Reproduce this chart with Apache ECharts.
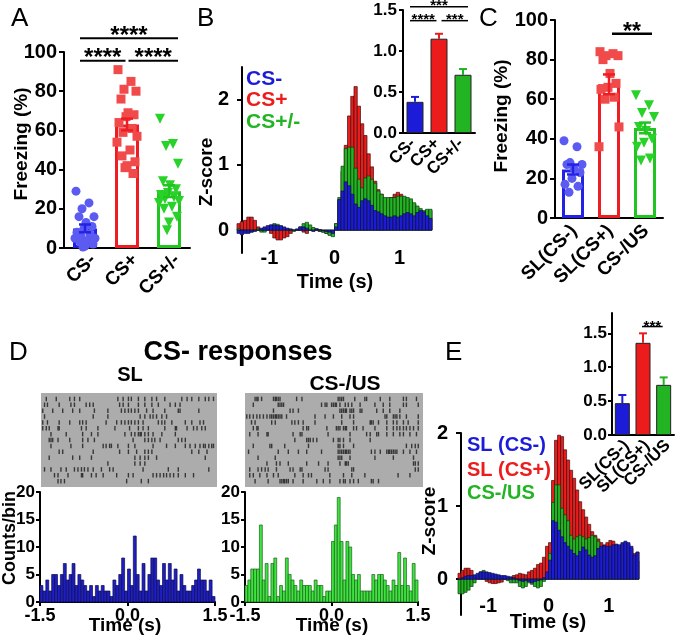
<!DOCTYPE html>
<html><head><meta charset="utf-8">
<script src="https://cdn.jsdelivr.net/npm/echarts@6/dist/echarts.min.js"></script>
<style>html,body{margin:0;padding:0;background:#fff}#c{width:677px;height:640px}</style>
</head><body><div id="c"></div><script>
// ---------- DATA ----------
const catsA = ['CS-', 'CS+', 'CS+/-'];
const meanA = [10, 63, 29];
const semA = [2, 3, 3];
const ptsA_minus = [29, 23, 20, 16, 16, 13, 11, 10, 8, 7, 6, 5, 5, 4, 3, 2, 1, 0.5];
const ptsA_plus = [91, 85, 81, 80, 76, 69, 68, 67, 64, 61, 59, 57, 54, 50, 47, 44, 42, 41, 38];
const ptsA_pm = [66, 53, 52, 43, 34, 32, 30, 28, 27, 26, 25, 24, 23, 21, 20, 16, 13, 9];
const sigA = [[0, 2, 107, '****'], [0, 1, 95.5, '****'], [1, 2, 95.5, '****']];

const catsB = ['CS-', 'CS+', 'CS+/-'];
const meanB = [0.38, 1.15, 0.71];
const semB = [0.06, 0.06, 0.07];
const sigB = [[0, 2, 1.54, '***'], [0, 1, 1.37, '****'], [1, 2, 1.37, '***']];
const zB_minus = [-0.05,-0.07,-0.05,-0.05,-0.03,-0.02,0.0,0.03,0.05,0.07,0.08,0.08,0.07,0.07,0.05,0.03,0.02,0.0,0.02,0.05,0.05,0.03,0.0,-0.02,0.02,0.01,-0.01,-0.02,-0.03,-0.05,
  0.05,0.47,0.6,0.74,0.68,0.55,0.4,0.35,0.45,0.48,0.45,0.38,0.3,0.28,0.25,0.22,0.2,0.2,0.22,0.2,0.22,0.25,0.27,0.25,0.22,0.27,0.3,0.28,0.22,0.18];
const zB_plus = [0.1,0.13,0.15,0.2,0.2,0.15,0.05,0.0,0.0,0.0,-0.05,-0.12,-0.15,-0.15,-0.12,-0.1,-0.05,0.0,0.0,0.0,-0.03,-0.05,0.02,0.03,0.02,-0.02,-0.03,-0.05,-0.07,-0.05,
  0.1,0.45,0.9,1.3,1.75,2.05,2.2,1.9,1.63,1.45,1.17,0.97,0.75,0.62,0.55,0.45,0.45,0.5,0.55,0.58,0.55,0.5,0.45,0.45,0.4,0.35,0.3,0.28,0.3,0.3];
const zB_pm = [0.02,0.0,-0.02,-0.03,-0.03,0.0,0.02,-0.03,-0.03,0.02,0.08,0.1,0.09,0.06,0.03,0.02,0.0,-0.02,0.0,0.05,0.1,0.12,0.08,0.04,0.0,-0.02,-0.03,-0.05,-0.08,-0.1,
  0.1,0.5,0.98,1.25,1.27,1.27,0.95,0.78,0.65,0.8,0.83,0.78,0.72,0.6,0.55,0.5,0.5,0.5,0.5,0.52,0.52,0.52,0.5,0.48,0.42,0.37,0.33,0.3,0.32,0.32];

const catsC = ['SL(CS-)', 'SL(CS+)', 'CS-/US'];
const meanC = [24.5, 67.5, 45.5];
const semC = [2.5, 5, 2.7];
const ptsC_sl_minus = [39, 36, 28, 27, 27, 25, 23, 20, 17, 16, 13];
const ptsC_sl_plus = [84, 83, 82, 82, 80, 73, 68, 66, 65, 61, 60, 46, 36];
const ptsC_csus = [62, 57, 53, 51, 46, 44, 40, 38, 36, 30, 29];
const sigC = [[1, 2, 93, '**']];

const countsSL = [3,2,4,2,5,5,3,5,7,4,5,7,3,5,4,3,2,3,1,3,2,3,2,2,1,4,3,5,8,2,6,3,12,5,2,7,2,5,8,8,4,3,7,4,7,4,6,2,5,3,2,2,3,4,6,4,4,2,4,1];
const countsUS = [3,4,6,6,6,14,4,7,1,7,8,1,3,2,8,5,4,3,2,4,3,3,3,2,4,3,3,1,2,2,11,14,19,11,4,11,10,5,4,5,2,2,2,2,5,4,5,5,4,3,2,4,3,9,3,8,3,2,7,4];
const rasterSL = [
  [-1.41,-1.24,-1.01,-0.93,-0.84,-0.19,-0.10,-0.01,0.04,0.16,0.27,0.39,0.47,0.61,0.90,0.99,1.07,1.19,1.30,1.36,1.44],
  [-1.44,-1.39,-1.19,-0.99,-0.93,-0.73,-0.67,-0.61,-0.16,-0.10,-0.01,0.16,0.27,0.39,0.50,0.70,0.79,0.87],
  [-1.47,-1.30,-1.13,-0.96,-0.84,-0.59,-0.36,-0.13,-0.07,-0.01,0.04,0.10,0.16,0.30,0.41,0.61,0.84,0.87,1.19],
  [-1.44,-0.61,-0.36,0.19,0.27,0.36,0.41,0.47,0.56,0.64],
  [-1.47,-1.39,-1.19,-1.01,-0.84,-0.79,-0.73,-0.39,-0.21,-0.13,-0.07,-0.01,0.04,0.10,0.16,0.24,0.50,0.56,0.61,0.73,0.96,1.07,1.21,1.27],
  [-1.47,-1.41,-1.36,-1.21,-1.19,-0.81,-0.73,-0.53,-0.24,0.01,0.16,0.24,0.33,0.61,0.79,0.81,0.99,1.10,1.16,1.24,1.30],
  [-1.33,-1.07,-0.79,-0.64,-0.53,-0.07,0.04,0.10,0.16,0.19,0.21,0.27,0.33,0.41,0.56,0.79],
  [-1.36,-1.33,-1.30,-1.21,-1.01,-0.79,-0.70,-0.59,0.07,0.27,0.33,0.39,0.44,0.53,0.84,0.90,0.96],
  [-1.33,-0.99,-0.79,-0.44,-0.39,-0.33,-0.30,-0.19,-0.01,0.10,0.41,0.64,0.79,0.96,1.04,1.13,1.21,1.27,1.30,1.36,1.41,1.44],
  [-1.19,-1.13,-0.61,-0.16,-0.01,0.13,0.27,0.33,0.39,1.07,1.19,1.33],
  [-1.36,-0.96,-0.84,-0.64,0.10,0.19,0.27,0.33,0.47,1.30],
  [-0.36,0.10,0.19,0.27],
  [-1.44,-1.33,-1.16,-1.07,-0.93,-0.87,-0.81,-0.76,-0.70,-0.61,-0.47,-0.33,-0.27,0.24,0.67,0.84,1.36],
  [-1.27,-1.21,-1.04,-0.81,-0.79,-0.64,-0.56,-0.44,-0.21,-0.01,0.07,0.41,0.47,0.53,0.59,0.64,0.70,0.76,0.84,0.96,1.10],
  [-1.21,-1.16,-1.10,-0.04,0.21,0.33]
];
const rasterUS = [
  [-1.33,-1.30,-1.28,-1.22,-1.02,-0.99,-0.97,-0.94,-0.91,-0.63,-0.54,0.07,0.10,0.13,0.16,0.35,0.52,0.55,0.78,0.94,1.17,1.22,1.39],
  [-1.36,-0.94,-0.91,-0.88,-0.85,-0.21,-0.15,-0.12,-0.04,-0.01,0.02,0.04,0.10,0.19,0.24,0.30,0.44,0.69,0.83,0.94,1.17,1.22,1.42],
  [-1.02,-0.74,-0.69,-0.60,0.10,0.13,0.16,0.19,0.21,0.27,0.30,0.33,0.44,0.47,0.72,0.83,0.94,1.11],
  [-1.47,-1.42,-1.36,-1.30,-1.25,-1.19,-1.13,-1.08,-1.05,-1.02,-0.99,-0.97,-0.94,-0.91,-0.88,-0.80,-0.32,-0.15,-0.01,0.13,0.27,0.33,0.86,0.89,1.00,1.03,1.06,1.11,1.22,1.42],
  [-1.39,-1.33,-1.05,-0.99,-0.71,-0.66,-0.60,-0.52,-0.32,0.13,0.33,0.61,0.63,0.66,0.75,0.89,1.00,1.06,1.17,1.25,1.42],
  [-1.36,-1.30,-1.28,-0.52,-0.46,-0.43,-0.12,0.04,0.07,0.10,0.16,0.19,0.21,0.33,0.38,0.49,0.69,0.89,1.00,1.06,1.11,1.17,1.22,1.28,1.34,1.42],
  [-1.42,-1.28,-1.13,-1.11,-0.69,-0.57,-0.54,-0.10,0.27,0.55,0.61,0.72,0.75,0.89,1.00,1.11,1.17,1.28,1.39],
  [-0.66,-0.46,-0.43,-0.40,-0.35,-0.29,-0.01,0.07,0.10,0.16,0.27,0.61],
  [-1.36,-1.08,-1.05,-0.83,-0.43,0.07,0.10,0.16,0.33,1.22,1.31,1.37,1.42],
  [-1.44,-0.94,-0.77,-0.60,-0.46,-0.21,0.07,0.10,0.13,0.16,0.19,0.21,0.24,0.27,0.63,0.69,0.78,0.89,0.92,0.94,0.97,1.00,1.03,1.06,1.17,1.28,1.39],
  [-1.28,-0.99,0.07,0.10,0.13,0.27,0.69,1.00,1.34],
  [-1.13,-0.97,-0.91,-0.77,-0.46,-0.26,-0.10,0.10,0.19,0.21,0.24,1.34,1.37,1.42],
  [-1.42,-1.28,-1.22,-1.16,-1.11,-0.97,-0.74,-0.69,-0.57,-0.54,-0.15,-0.10,0.30,0.33,1.37,1.42],
  [-1.42,-1.36,-1.25,-1.13,-1.02,-0.94,-0.66,-0.52,-0.43,-0.38,-0.07,0.16,0.30,0.52,1.08,1.28],
  [-1.33,-1.11,-0.91,-0.88,-0.85,-0.83,-0.80,-0.77,-0.69,-0.52,-0.29,-0.18,-0.07,0.10,0.16,0.19,0.27,0.33,0.41,0.63,0.66,0.75]
];

const catsE = ['SL(CS-)', 'SL(CS+)', 'CS-/US'];
const meanE = [0.47, 1.36, 0.74];
const semE = [0.12, 0.14, 0.11];
const sigE = [[1, 2, 1.6, '***']];
const zE_sl_minus = [0.0,0.02,0.04,0.05,0.05,0.06,0.08,0.1,0.1,0.1,0.09,0.08,0.07,0.06,0.05,0.05,0.04,0.03,0.02,0.0,-0.02,-0.03,-0.02,-0.03,-0.05,-0.03,-0.02,-0.01,0.02,0.1,
  0.26,0.8,0.78,0.67,0.58,0.5,0.45,0.4,0.35,0.32,0.38,0.44,0.4,0.33,0.3,0.32,0.42,0.45,0.46,0.45,0.45,0.47,0.48,0.47,0.5,0.52,0.5,0.45,0.33,0.37];
const zE_sl_plus = [0.08,0.12,0.15,0.15,0.12,0.05,0.02,0.05,0.06,-0.03,-0.05,-0.06,-0.06,-0.05,-0.04,0.0,0.02,0.03,0.05,0.06,0.08,0.07,0.06,0.1,0.12,0.15,0.2,0.22,0.3,0.45,
  0.5,1.35,1.9,1.97,1.95,1.77,1.63,1.49,1.38,1.22,1.06,0.95,0.85,0.75,0.65,0.6,0.55,0.5,0.47,0.5,0.53,0.52,0.47,0.45,0.48,0.5,0.48,0.42,0.35,0.37];
const zE_csus = [-0.2,-0.2,-0.18,-0.15,-0.1,-0.05,0.02,0.1,0.12,0.08,0.06,0.05,0.05,0.04,0.02,0.0,-0.02,-0.05,-0.05,-0.05,-0.1,-0.12,-0.1,-0.05,-0.07,-0.1,-0.12,-0.1,-0.03,0.02,
  0.35,1.05,1.29,1.29,0.97,0.88,0.8,0.6,0.55,0.58,0.6,0.58,0.55,0.57,0.6,0.58,0.52,0.42,0.35,0.33,0.35,0.38,0.37,0.35,0.3,0.3,0.3,0.28,0.25,0.25];

const binStart = -1.5, binWidth = 0.05;

// ---------- STYLE ----------
const FONT = 'Liberation Sans, Arial, sans-serif';
const BLUE = '#1c1cd8', RED = '#ec1c1c', GREEN = '#22b422';
const colA = ['#2222e6', '#ee1d24', '#22c322'];
const dotCol = ['#5b5bf2', '#f14a4a', '#29d229'];
const jit = [-9, 4, -3, 9, -6, 1, 7, -1, -8, 5, -4, 10, -10, 3, -5, 8, 0, -2, 6];

function lab(size, extra) { return Object.assign({fontFamily: FONT, fontWeight: 'bold', fontSize: size, color: '#000'}, extra || {}); }
const AXL = {show: true, onZero: false, lineStyle: {color: '#000', width: 2}};
const TICK = (len, extra) => Object.assign({show: true, length: len, lineStyle: {color: '#000', width: 2}}, extra || {});

function histData(vals) { return vals.map((v, i) => [binStart + i * binWidth, binStart + (i + 1) * binWidth, v]); }
function histRender(fill, stroke, lw) {
  return function (params, api) {
    const p1 = api.coord([api.value(0), api.value(2)]);
    const p2 = api.coord([api.value(1), 0]);
    return {type: 'rect', shape: {x: p1[0], y: Math.min(p1[1], p2[1]), width: p2[0] - p1[0], height: Math.abs(p2[1] - p1[1])},
      style: {fill: fill, stroke: stroke, lineWidth: lw}};
  };
}
function errRender(colors, capW, lw, oneSided) {
  return function (params, api) {
    const i = api.value(0), m = api.value(1), s = api.value(2);
    const top = api.coord([i, m + s]), bot = api.coord([i, oneSided ? m : m - s]);
    const x = top[0];
    const st = {stroke: colors[params.dataIndex], lineWidth: lw};
    const ch = [
      {type: 'line', shape: {x1: x, y1: top[1], x2: x, y2: bot[1]}, style: st},
      {type: 'line', shape: {x1: x - capW / 2, y1: top[1], x2: x + capW / 2, y2: top[1]}, style: st}
    ];
    if (!oneSided) ch.push({type: 'line', shape: {x1: x - capW / 2, y1: bot[1], x2: x + capW / 2, y2: bot[1]}, style: st});
    return {type: 'group', children: ch};
  };
}
function sigRender(arr, o) {
  return function (params, api) {
    const d = arr[params.dataIndex];
    const p1 = api.coord([d[0], d[2]]), p2 = api.coord([d[1], d[2]]);
    const x1 = p1[0] + (d[0] === 0 ? -o.padL : o.gap);
    const x2 = p2[0] + (d[1] === 2 ? o.padR : -o.gap);
    return {type: 'group', children: [
      {type: 'line', shape: {x1: x1, y1: p1[1], x2: x2, y2: p1[1]}, style: {stroke: '#000', lineWidth: o.lw}},
      {type: 'text', x: (x1 + x2) / 2, y: p1[1] - o.dy,
        style: {text: d[3], fill: '#000', font: 'bold ' + o.fs + 'px ' + FONT, align: 'center', verticalAlign: 'middle'}}
    ]};
  };
}
function scatterSeries(vals, cat, symbol, size, color, axis, rot) {
  return {type: 'scatter', xAxisIndex: axis, yAxisIndex: axis, z: 4, symbol: symbol, symbolSize: size, symbolRotate: rot || 0,
    itemStyle: {color: color, opacity: 1},
    data: vals.map((v, i) => ({value: [cat, v], symbolOffset: [jit[i % jit.length], 0]}))};
}
function rasterData(rows) { const out = []; rows.forEach((r, k) => r.forEach(t => out.push([t, k + 1]))); return out; }

// ---------- GRIDS & AXES ----------
const grids = [
  {left: 64, top: 52, width: 126, height: 196},   // 0 A
  {left: 237, top: 67, width: 195, height: 186},  // 1 B main
  {left: 403, top: 10, width: 72, height: 123},   // 2 B inset
  {left: 555, top: 20, width: 108, height: 198},  // 3 C
  {left: 41, top: 393, width: 176, height: 94, show: true, backgroundColor: '#acacac', borderWidth: 0}, // 4 SL raster
  {left: 40, top: 492, width: 175, height: 110},  // 5 SL hist
  {left: 245, top: 393, width: 178, height: 94, show: true, backgroundColor: '#acacac', borderWidth: 0}, // 6 US raster
  {left: 245, top: 492, width: 173, height: 110}, // 7 US hist
  {left: 458, top: 433, width: 181, height: 182}, // 8 E main
  {left: 612, top: 313, width: 62, height: 122}   // 9 E inset
];
const noSplit = {show: false};
function catX(g, cats) {
  return {gridIndex: g, type: 'category', data: cats, axisLine: AXL, axisTick: {show: false},
    axisLabel: {show: false}, splitLine: noSplit};
}
const hideAxis = (g, min, max, inv) => ({gridIndex: g, type: 'value', min: min, max: max, inverse: !!inv, show: false, splitLine: noSplit});
const timeX = (g, off) => ({gridIndex: g, type: 'value', min: -1.5, max: 1.5, offset: off, axisLine: {show: false, onZero: false}, axisTick: {show: false},
  axisLabel: lab(20, {customValues: [-1, 0, 1], margin: 0}), splitLine: noSplit});
const histX = g => ({gridIndex: g, type: 'value', min: -1.5, max: 1.5, interval: 1.5, axisLine: AXL, axisTick: TICK(4),
  axisLabel: lab(18, {margin: 5, showMinLabel: true, showMaxLabel: true, formatter: v => v.toFixed(1)}), splitLine: noSplit});

const xAxes = [
  catX(0, catsA),
  timeX(1, -5),
  catX(2, catsB),
  catX(3, catsC),
  hideAxis(4, -1.5, 1.5),
  histX(5),
  hideAxis(6, -1.5, 1.5),
  histX(7),
  timeX(8, -19),
  catX(9, catsE)
];
const yAxes = [
  {gridIndex: 0, type: 'value', min: 0, max: 100, interval: 20, axisLine: AXL, axisTick: TICK(5), axisLabel: lab(20, {margin: 7}), splitLine: noSplit},
  {gridIndex: 1, type: 'value', min: -0.35, max: 2.5, offset: -5, axisLine: AXL, axisTick: TICK(5, {customValues: [0, 1, 2]}),
    axisLabel: lab(20, {margin: 13, customValues: [0, 1, 2]}), splitLine: noSplit},
  {gridIndex: 2, type: 'value', min: 0, max: 1.5, interval: 0.5, axisLine: AXL, axisTick: TICK(4),
    axisLabel: lab(17, {margin: 6, formatter: v => v.toFixed(1)}), splitLine: noSplit},
  {gridIndex: 3, type: 'value', min: 0, max: 100, interval: 20, axisLine: AXL, axisTick: TICK(5), axisLabel: lab(20, {margin: 7}), splitLine: noSplit},
  hideAxis(4, 0, 16, true),
  {gridIndex: 5, type: 'value', min: 0, max: 20, interval: 5, axisLine: AXL, axisTick: TICK(4), axisLabel: lab(17, {margin: 5}), splitLine: noSplit},
  hideAxis(6, 0, 16, true),
  {gridIndex: 7, type: 'value', min: 0, max: 20, interval: 5, axisLine: AXL, axisTick: TICK(4), axisLabel: lab(17, {margin: 5}), splitLine: noSplit},
  {gridIndex: 8, type: 'value', min: -0.49, max: 2.0, offset: -3, axisLine: AXL, axisTick: TICK(5, {customValues: [0, 1, 2]}),
    axisLabel: lab(20, {margin: 13, customValues: [0, 1, 2]}), splitLine: noSplit},
  {gridIndex: 9, type: 'value', min: 0, max: 1.8, axisLine: AXL, axisTick: TICK(4, {customValues: [0, 0.5, 1, 1.5]}),
    axisLabel: lab(17, {margin: 5, customValues: [0, 0.5, 1, 1.5], formatter: v => v.toFixed(1)}), splitLine: noSplit}
];

// ---------- SERIES ----------
const series = [];
function hollowBars(axis, means, width) {
  series.push({type: 'bar', xAxisIndex: axis, yAxisIndex: axis, barWidth: width, z: 2,
    data: means.map((v, i) => ({value: v, itemStyle: {color: '#fff', borderColor: colA[i], borderWidth: 3}}))});
}
function filledBars(axis, means, width) {
  const fills = [BLUE, RED, GREEN];
  series.push({type: 'bar', xAxisIndex: axis, yAxisIndex: axis, barWidth: width, z: 3,
    data: means.map((v, i) => ({value: v, itemStyle: {color: fills[i], borderColor: '#222', borderWidth: 1}}))});
}
function errSeries(axis, means, sems, colors, capW, lw, one, z) {
  series.push({type: 'custom', xAxisIndex: axis, yAxisIndex: axis, z: z, renderItem: errRender(colors, capW, lw, one),
    encode: {x: 0, y: 1}, data: means.map((m, i) => [i, m, sems[i]])});
}
function sigSeries(axis, arr, o) {
  series.push({type: 'custom', xAxisIndex: axis, yAxisIndex: axis, z: 6, clip: false, renderItem: sigRender(arr, o),
    encode: {x: 0, y: 2}, data: arr.map(d => [d[0], d[1], d[2]])});
}
function histSeries(axis, vals, fill, stroke, lw, z) {
  series.push({type: 'custom', xAxisIndex: axis, yAxisIndex: axis, z: z, renderItem: histRender(fill, stroke, lw),
    encode: {x: [0, 1], y: 2}, data: histData(vals)});
}

// A
hollowBars(0, meanA, 24);
series.push(scatterSeries(ptsA_minus, 0, 'circle', 9, dotCol[0], 0));
series.push(scatterSeries(ptsA_plus, 1, 'rect', 9, dotCol[1], 0));
series.push(scatterSeries(ptsA_pm, 2, 'triangle', 10, dotCol[2], 0, 180));
errSeries(0, meanA, semA, colA, 12, 2.5, false, 5);
sigSeries(0, sigA, {padL: 5, padR: 9, gap: 1.5, lw: 2, fs: 24, dy: 2});

// B
histSeries(1, zB_plus, RED, '#3a1010', 0.7, 2);
histSeries(1, zB_pm, GREEN, '#103a10', 0.7, 3);
histSeries(1, zB_minus, BLUE, '#10103a', 0.7, 4);
errSeries(2, meanB, semB, [BLUE, RED, GREEN], 8, 2, true, 2);
filledBars(2, meanB, 17);
sigSeries(2, sigB, {padL: 5, padR: 5, gap: 2.5, lw: 1.5, fs: 15, dy: 1});

// C
hollowBars(3, meanC, 22);
series.push(scatterSeries(ptsC_sl_minus, 0, 'circle', 9, dotCol[0], 3));
series.push(scatterSeries(ptsC_sl_plus, 1, 'rect', 9, dotCol[1], 3));
series.push(scatterSeries(ptsC_csus, 2, 'triangle', 10, dotCol[2], 3, 180));
errSeries(3, meanC, semC, colA, 12, 2.5, false, 5);
sigSeries(3, sigC, {padL: 5, padR: 7, gap: 3, lw: 2.5, fs: 23, dy: 1});

// D
series.push({type: 'scatter', xAxisIndex: 4, yAxisIndex: 4, symbol: 'rect', symbolSize: [1.4, 4.5], itemStyle: {color: '#1c1c1c'}, data: rasterData(rasterSL)});
histSeries(5, countsSL, '#1f1fbf', '#0c0c55', 0.7, 3);
series.push({type: 'scatter', xAxisIndex: 6, yAxisIndex: 6, symbol: 'rect', symbolSize: [1.4, 4.5], itemStyle: {color: '#1c1c1c'}, data: rasterData(rasterUS)});
histSeries(7, countsUS, '#3fe33f', '#1b601b', 0.7, 3);

// E
histSeries(8, zE_sl_plus, RED, '#3a1010', 0.7, 2);
histSeries(8, zE_csus, GREEN, '#103a10', 0.7, 3);
histSeries(8, zE_sl_minus, BLUE, '#10103a', 0.7, 4);
errSeries(9, meanE, semE, [BLUE, RED, GREEN], 8, 2, true, 2);
filledBars(9, meanE, 15);
sigSeries(9, sigE, {padL: 5, padR: -1, gap: -1, lw: 1.5, fs: 15, dy: 0});

// ---------- TEXT ----------
function txt(s, x, y, size, color, opts) {
  opts = opts || {};
  return {type: 'text', x: x, y: y, rotation: opts.rot || 0, originX: 0, originY: 0, z: 10,
    style: {text: s, fill: color || '#000', font: (opts.weight || 'bold') + ' ' + size + 'px ' + FONT,
      align: opts.align || 'center', verticalAlign: opts.va || 'middle'}};
}
const R = Math.PI / 2;
const graphics = [
  txt('A', 11, 19, 26, '#000', {weight: 'normal', align: 'left'}),
  txt('B', 197, 19, 26, '#000', {weight: 'normal', align: 'left'}),
  txt('C', 479, 19, 26, '#000', {weight: 'normal', align: 'left'}),
  txt('D', 9, 353, 26, '#000', {weight: 'normal', align: 'left'}),
  txt('E', 445, 353, 26, '#000', {weight: 'normal', align: 'left'}),
  txt('Freezing (%)', 22, 144, 19, '#000', {rot: R}),
  txt('Z-score', 207, 172, 19, '#000', {rot: R}),
  txt('Freezing (%)', 502, 116, 19, '#000', {rot: R}),
  txt('Counts/bin', 10, 538, 18, '#000', {rot: R}),
  txt('Z-score', 430, 521, 19, '#000', {rot: R}),
  txt('Time (s)', 335, 282, 20),
  txt('Time (s)', 125, 626, 19),
  txt('Time (s)', 332, 626, 19),
  txt('Time (s)', 548, 622, 20),
  txt('CS- responses', 238, 353, 27),
  txt('SL', 130, 375, 20),
  txt('CS-/US', 345, 384, 21),
  txt('CS-', 246, 79, 21, BLUE, {align: 'left'}),
  txt('CS+', 246, 100, 21, RED, {align: 'left'}),
  txt('CS+/-', 246, 122, 21, GREEN, {align: 'left'}),
  txt('SL (CS-)', 467, 445, 20, BLUE, {align: 'left'}),
  txt('SL (CS+)', 467, 470, 20, RED, {align: 'left'}),
  txt('CS-/US', 467, 493, 20, GREEN, {align: 'left'})
];

const chart = echarts.init(document.getElementById('c'), null, {renderer: 'canvas'});
chart.setOption({
  animation: false,
  backgroundColor: '#fff',
  grid: grids,
  xAxis: xAxes,
  yAxis: yAxes,
  series: series
});

// rotated category tick labels, anchored at each category position found through the axes
function catLabels(axis, cats, fs, dx, dy) {
  cats.forEach((c, i) => {
    const p = chart.convertToPixel({xAxisIndex: axis, yAxisIndex: axis}, [i, 0]);
    graphics.push(txt(c, p[0] + dx, p[1] + dy, fs, '#000', {rot: Math.PI / 4, align: 'right'}));
  });
}
catLabels(0, catsA, 19, 8, 9);
catLabels(2, catsB, 17, -2, 8);
catLabels(3, catsC, 19, 1, 10);
catLabels(9, catsE, 17, 4, 8);

chart.setOption({graphic: graphics});
</script></body></html>
